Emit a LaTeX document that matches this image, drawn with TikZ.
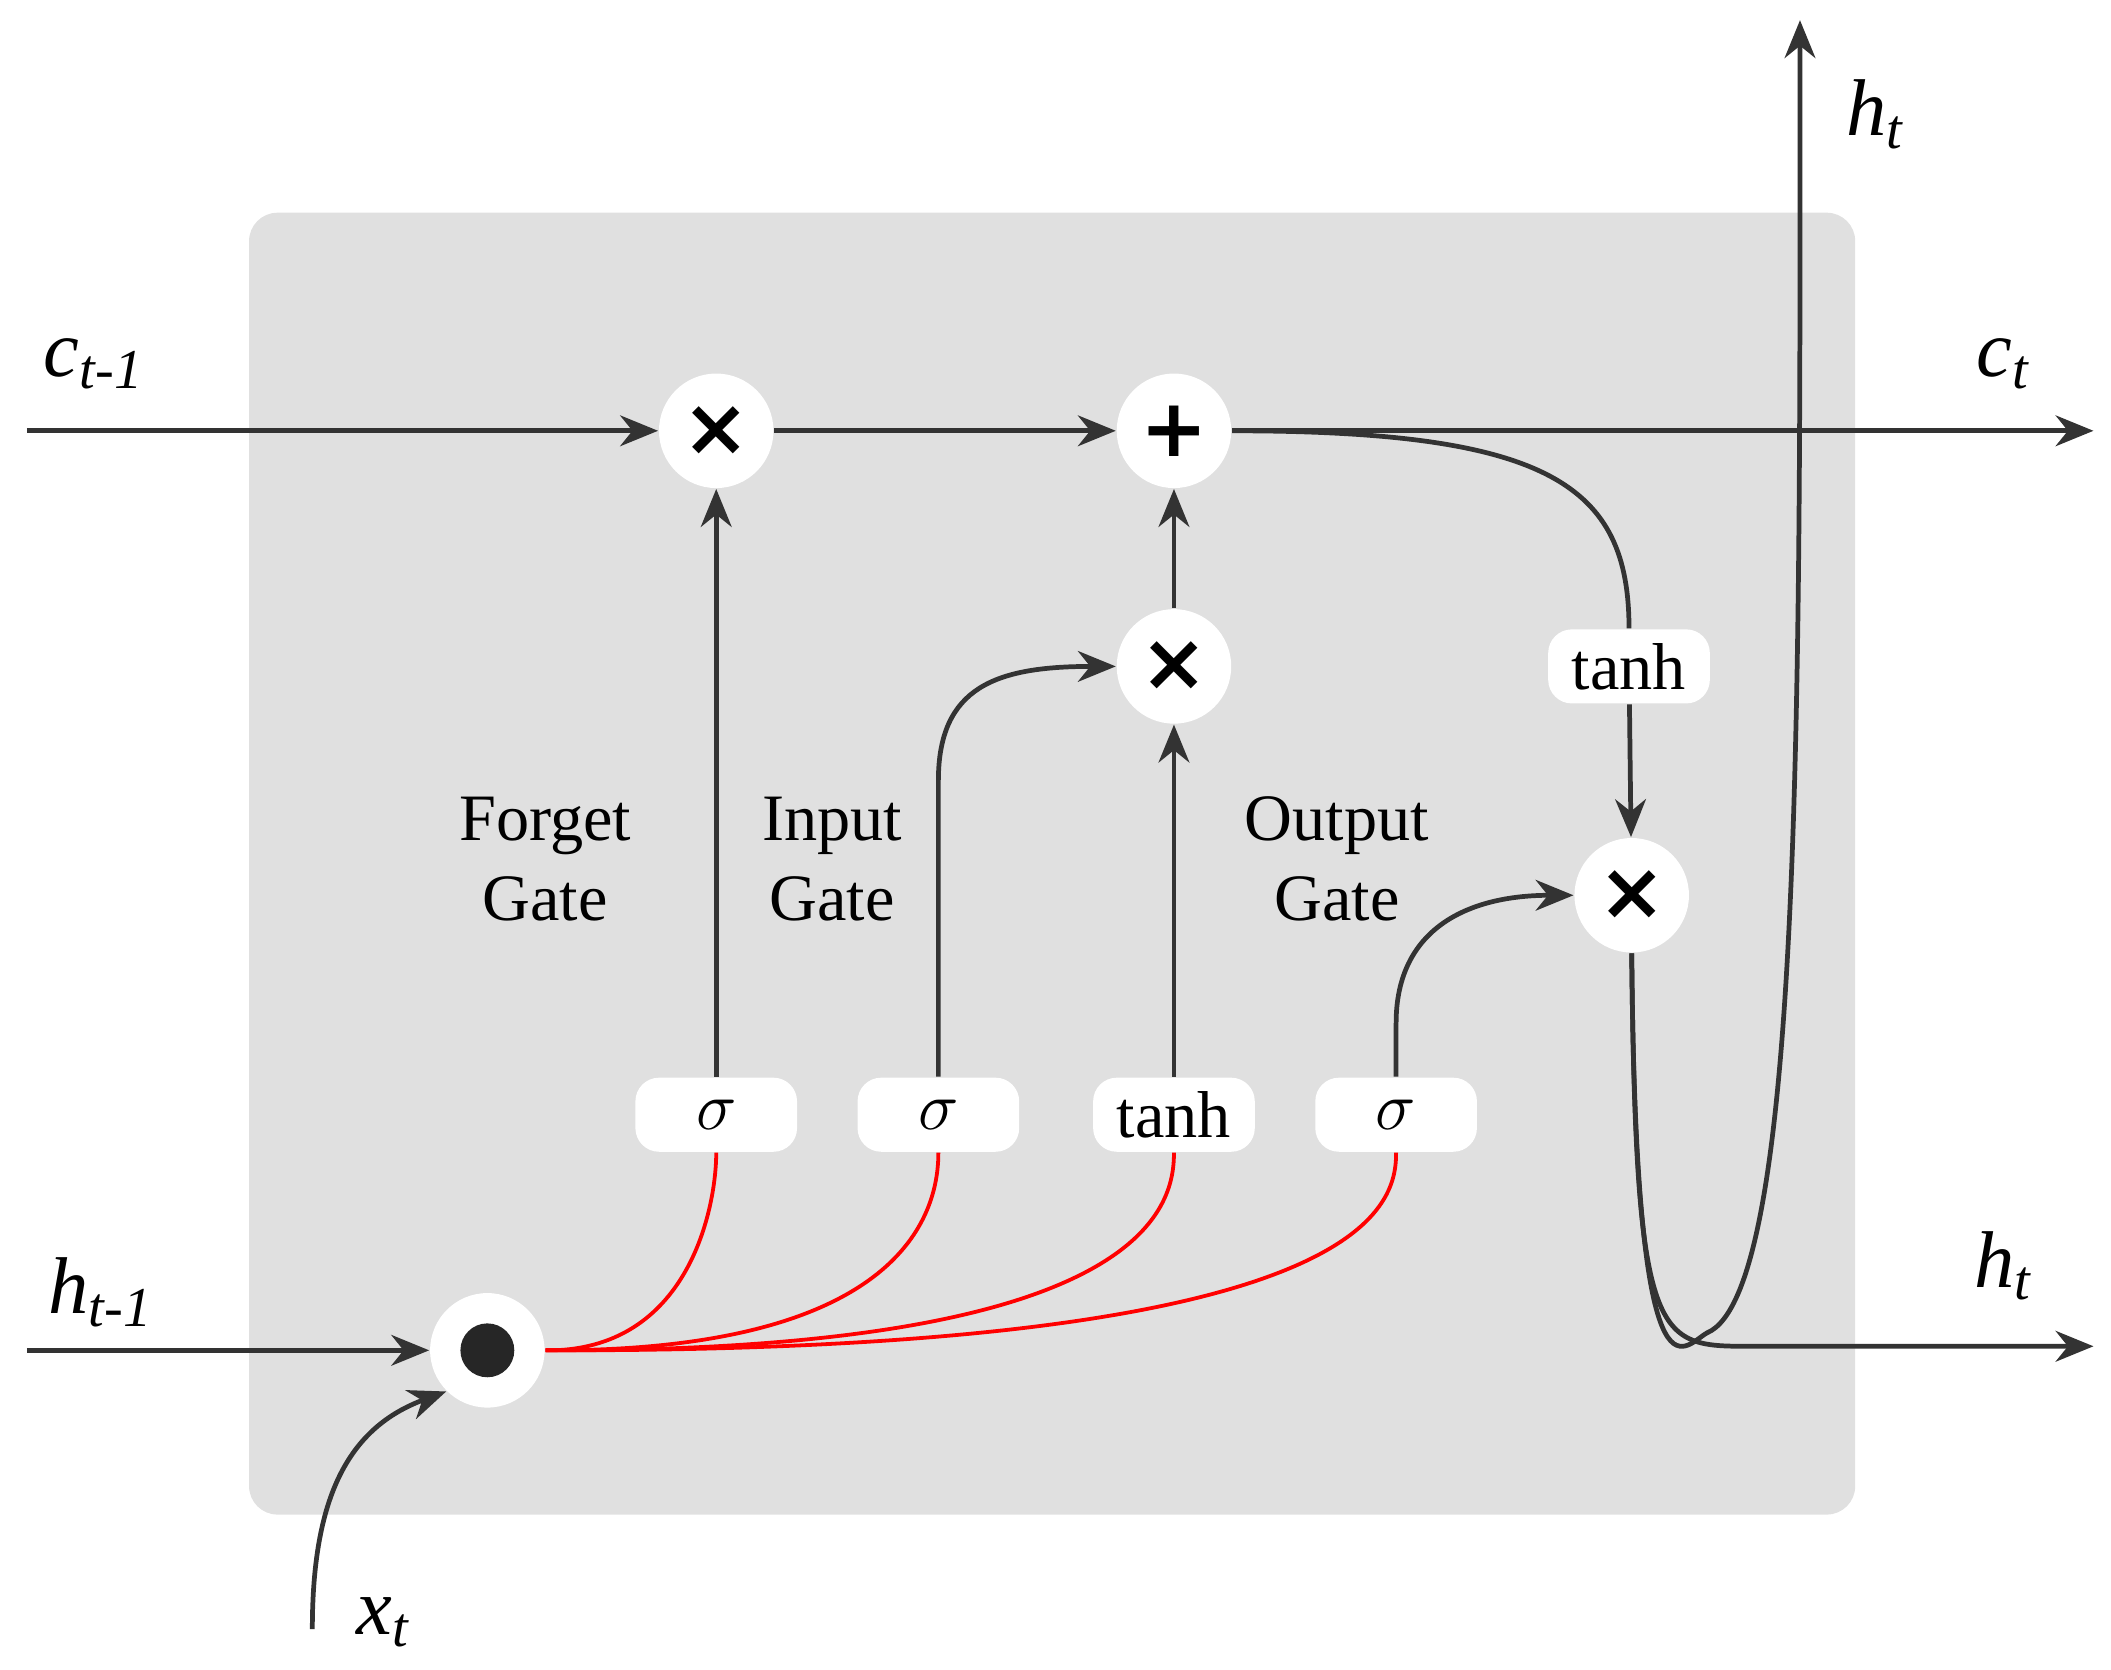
\documentclass[tikz,border=0pt]{standalone}
\usepackage{fontspec}
\setmainfont{Liberation Serif}
\newfontfamily\opfont{DejaVu Sans}
\usetikzlibrary{arrows.meta,positioning,calc}
\tikzset{
  flow/.style={line width=1pt,draw=black!80,-{Stealth[length=8pt,width=6.5pt]}},
  wire/.style={line width=1pt,draw=black!80},
  feed/.style={line width=0.8pt,draw=red},
  op/.style={circle,fill=white,minimum size=0.85cm,inner sep=0pt,font=\opfont\bfseries\fontsize{17}{17}\selectfont},
  act/.style={rounded corners=5pt,fill=white,minimum width=1.2cm,minimum height=0.55cm,inner sep=0pt,font=\fontsize{14}{14}\selectfont},
  lbl/.style={font=\fontsize{14}{17}\selectfont,align=center},
  var/.style={font=\fontsize{17}{17}\selectfont\itshape}
}
\begin{document}
\begin{tikzpicture}[x=0.01cm,y=-0.01cm]
\useasboundingbox (0,0) rectangle (1568,1240);
\fill[black!12,rounded corners=6pt] (185,158) rectangle (1378,1125);
% operators
\node[op] (fx) at (532,320) {×};
\node[op] (add) at (872,320) {+};
\node[op] (ix) at (872,495) {×};
\node[op] (ox) at (1212,665) {×};
\node[op] (cat) at (362,1003) {};
\fill[black!85] (cat) circle (0.2cm);
% activations
\node[act] (fs) at (532,828) {$\sigma$};
\node[act] (is) at (697,828) {$\sigma$};
\node[act] (ct) at (872,828) {tanh};
\node[act] (os) at (1037,828) {$\sigma$};
\node[act] (ht) at (1210,495) {tanh};
% gate labels
\node[lbl] at (405,638) {Forget\\Gate};
\node[lbl] at (618,638) {Input\\Gate};
\node[lbl] at (993,638) {Output\\Gate};
% free ends
\coordinate (cin) at (20,320);
\coordinate (cout) at (1555,320);
\coordinate (hin) at (20,1003);
\coordinate (hout) at (1555,1000);
\coordinate (htop) at (1337,15);
\coordinate (xin) at (232,1210);
% labels
\node[var] at (70,270) {c\textsubscript{t-1}};
\node[var] at (1488,270) {c\textsubscript{t}};
\node[var] at (75,960) {h\textsubscript{t-1}};
\node[var] at (1488,940) {h\textsubscript{t}};
\node[var] at (1393,85) {h\textsubscript{t}};
\node[var] at (285,1205) {x\textsubscript{t}};
% cell state
\draw[flow] (cin) -- (fx);
\draw[flow] (fx) -- (add);
\draw[flow] (add) -- (cout);
\draw[wire] (add.east) .. controls (1150,320) and (1210,360) .. (ht.north);
\draw[flow] (ht) -- (ox);
% gates
\draw[flow] (fs) -- (fx);
\draw[flow] (ct) -- (ix);
\draw[flow] (ix) -- (add);
\draw[flow] (is.north) -- (697,580) .. controls (697,510) and (740,495) .. (ix.west);
\draw[flow] (os.north) -- (1037,760) .. controls (1037,690) and (1090,665) .. (ox.west);
% inputs
\draw[flow] (hin) -- (cat);
\draw[flow] (xin) .. controls (232,1110) and (260,1060) .. (cat.south west);
\foreach \g in {fs,is,ct,os}
  \draw[feed] (cat.east) .. controls ($(\g.south)+(-20,148)$) and ($(\g.south)+(0,40)$) .. (\g.south);
% hidden output
\draw[flow] (ox.south) .. controls (1215,1000) and (1230,1000) .. (1300,1000) -- (hout);
\draw[flow] (ox.south) .. controls (1215,1060) and (1250,1000) .. (1268,990) .. controls (1340,960) and (1337,500) .. (htop);
\end{tikzpicture}
\end{document}
